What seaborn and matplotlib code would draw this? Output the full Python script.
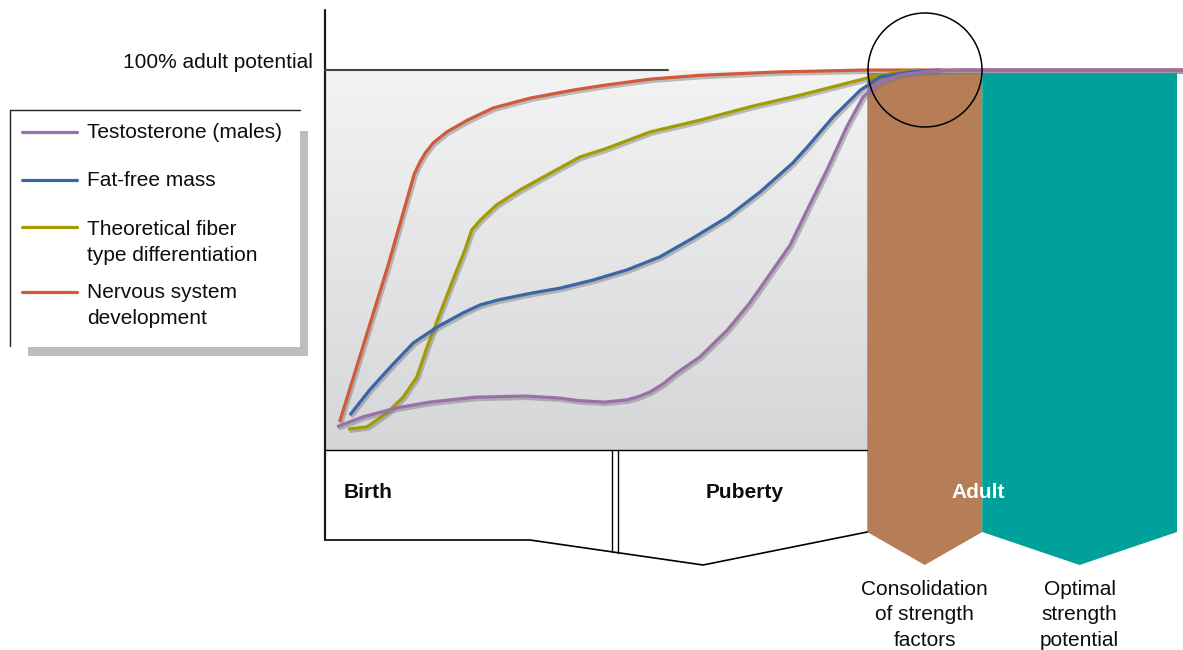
import numpy as np
import pandas as pd
import matplotlib
matplotlib.use("Agg")
import matplotlib.pyplot as plt
import matplotlib.patheffects as pe
from matplotlib.colors import LinearSegmentedColormap
from matplotlib.patches import Polygon, Ellipse, Rectangle
import seaborn as sns

# --- data: development (0-100 arbitrary time) vs % of adult potential ---
nervous_x = [1.7, 7.3, 10.4, 11.0, 11.7, 12.6, 14.2, 16.6, 19.6, 23.9, 28.9, 32.6, 37.9, 43.7, 53.0, 63.2, 70.5, 100]
nervous_y = [7.4, 48.2, 72.6, 75.5, 78.2, 80.8, 83.7, 86.8, 90.0, 92.6, 94.7, 96.0, 97.6, 98.6, 99.5, 100, 100, 100]

fiber_x = [2.7, 4.9, 7.2, 9.1, 10.7, 11.9, 13.1, 14.9, 16.3, 17.1, 18.1, 20.0, 22.7, 25.9, 29.7, 32.6,
           37.9, 43.7, 49.5, 55.4, 63.2, 67.0, 69.3]
fiber_y = [5.5, 6.1, 9.7, 13.9, 19.2, 27.1, 34.2, 44.7, 52.6, 57.9, 60.5, 64.5, 68.4, 72.4, 77.1, 79.2,
           83.7, 86.8, 90.3, 93.4, 97.9, 99.5, 100]

fatfree_x = [2.9, 5.2, 7.6, 10.3, 13.1, 16.1, 18.1, 20.2, 24.1, 27.4, 31.2, 35.2, 39.0, 42.9, 46.9,
             50.7, 54.5, 56.2, 59.2, 62.4, 64.7, 68.2, 71.7]
fatfree_y = [9.2, 15.8, 21.8, 28.2, 32.4, 36.1, 38.2, 39.5, 41.3, 42.6, 44.7, 47.4, 50.8, 55.8, 61.3,
             67.9, 75.5, 79.7, 87.6, 94.7, 98.2, 99.5, 100]

testo_x = [1.4, 4.4, 8.4, 12.2, 17.5, 23.3, 27.2, 29.5, 32.6, 35.2, 36.6, 37.9, 39.4, 41.0, 43.7, 46.9, 49.5,
           52.2, 54.2, 56.2, 58.5, 60.8, 62.7, 64.7, 67.0, 70.5, 74.0, 100]
testo_y = [6.1, 8.7, 11.1, 12.6, 13.9, 14.2, 13.7, 13.0, 12.6, 13.2, 14.1, 15.3, 17.4, 20.3, 24.5, 31.6, 38.7,
           47.4, 53.9, 63.2, 73.7, 85.0, 92.9, 96.8, 98.7, 99.7, 100, 100]

series_names = ["Nervous system\ndevelopment", "Theoretical fiber\ntype differentiation",
                "Fat-free mass", "Testosterone (males)"]
series_colors = ["#d05a3a", "#a39b00", "#3a66a5", "#9b6fa9"]
legend_order = [3, 2, 1, 0]

stage_edges = [0, 33.7, 63.2, 76.6, 99.3]
stage_labels = ["Birth", "Puberty", "Adult"]
phase_labels = ["Consolidation\nof strength\nfactors", "Optimal\nstrength\npotential"]

# --- build long table for seaborn ---
frames = []
for name, xs, ys in zip(series_names,
                        [nervous_x, fiber_x, fatfree_x, testo_x],
                        [nervous_y, fiber_y, fatfree_y, testo_y]):
    frames.append(pd.DataFrame({"time": xs, "potential": ys, "series": name}))
df = pd.concat(frames, ignore_index=True)

sns.set_theme(style="white")
plt.rcParams["font.family"] = ["Liberation Sans", "DejaVu Sans"]
plt.rcParams["text.color"] = "#0d0d0d"

W, H = 1183, 650
fig = plt.figure(figsize=(W / 100, H / 100), dpi=100)
ax = fig.add_axes([0, 0, 1, 1])


# pixel -> data helpers for the schematic layout
def X(px):
    return (px - 325) / 8.58


def Y(py):
    return (450 - py) / 3.8


ax.set_xlim(X(0), X(W))
ax.set_ylim(Y(H), Y(0))
ax.axis("off")

# gradient background of the plot region
grad = np.linspace(0, 1, 256).reshape(-1, 1)
gcmap = LinearSegmentedColormap.from_list("g", ["#f3f3f3", "#d5d6d8"])
ax.imshow(grad, cmap=gcmap, extent=[stage_edges[0], stage_edges[2], 0, 100],
          origin="upper", aspect="auto", zorder=0)

# adult bands with pentagon tips
top, bot, tip = Y(73), Y(532), Y(565)
for (x0, x1), col in zip([(stage_edges[2], stage_edges[3]), (stage_edges[3], stage_edges[4])],
                         ["#b57e56", "#00a19a"]):
    xc = (x0 + x1) / 2
    ax.add_patch(Polygon([(x0, top), (x1, top), (x1, bot), (xc, tip), (x0, bot)],
                         closed=True, facecolor=col, edgecolor="none", zorder=1))

# stage box below the plot
ax.plot([0, stage_edges[2]], [0, 0], color="black", lw=1.0, zorder=2)
box_x = [0, X(530), X(703), stage_edges[2]]
box_y = [Y(540), Y(540), Y(565), Y(532)]
ax.plot(box_x, box_y, color="black", lw=1.2, zorder=2)
for dx in (X(612), X(618)):
    ax.plot([dx, dx], [0, np.interp(dx, box_x, box_y)], color="black", lw=1.0, zorder=2)

# axis line and 100% line
ax.plot([0, 0], [Y(10), Y(540)], color="#1a1a1a", lw=1.6, zorder=2)
ax.plot([0, X(668)], [100, 100], color="#444444", lw=1.5, zorder=2)
ax.text(X(313), Y(63), "100% adult potential", ha="right", va="center", fontsize=15)

# curves
sns.lineplot(data=df, x="time", y="potential", hue="series", hue_order=series_names,
             palette=series_colors, sort=False, estimator=None, legend=False,
             linewidth=2.3, ax=ax, zorder=4)
for line in ax.get_lines()[-4:]:
    line.set_path_effects([pe.SimpleLineShadow(offset=(1.0, -1.3), shadow_color="#777777",
                                               alpha=0.45, linewidth=3.2),
                           pe.Normal()])
    line.set_solid_capstyle("butt")
    line.set_solid_joinstyle("round")
ax.set_xlim(X(0), X(W))
ax.set_ylim(Y(H), Y(0))

# highlight circle
ax.add_patch(Ellipse((X(925), 100), 2 * 57 / 8.58, 2 * 57 / 3.8, fill=False,
                     edgecolor="black", lw=1.1, zorder=5))

# stage labels
ax.text(X(344), Y(493), stage_labels[0], ha="left", va="center", fontsize=15, fontweight="bold")
ax.text(X(745), Y(493), stage_labels[1], ha="center", va="center", fontsize=15, fontweight="bold")
ax.text(X(978), Y(493), stage_labels[2], ha="center", va="center", fontsize=15,
        fontweight="bold", color="white", zorder=3)
for (x0, x1), lab in zip([(stage_edges[2], stage_edges[3]), (stage_edges[3], stage_edges[4])], phase_labels):
    ax.text((x0 + x1) / 2, Y(615), lab, ha="center", va="center", fontsize=15,
            linespacing=1.42)

# legend box (drawn by hand: top/left rule + grey drop shadow)
ax.add_patch(Rectangle((X(300), Y(356)), X(308) - X(300), Y(131) - Y(356),
                       facecolor="#bcbdc0", edgecolor="none", zorder=2))
ax.add_patch(Rectangle((X(28), Y(356)), X(308) - X(28), Y(347) - Y(356),
                       facecolor="#bcbdc0", edgecolor="none", zorder=2))
ax.plot([X(10), X(300)], [Y(110), Y(110)], color="#222222", lw=1.0, zorder=3)
ax.plot([X(10), X(10)], [Y(110), Y(346)], color="#222222", lw=1.0, zorder=3)
leg_line_y = [132, 180, 227, 292]
leg_text_y = [133, 181, 242.5, 305.5]
for i, ly, ty in zip(legend_order, leg_line_y, leg_text_y):
    ax.plot([X(22), X(77)], [Y(ly), Y(ly)], color=series_colors[i], lw=2.3, zorder=3)
    ax.text(X(87), Y(ty), series_names[i], ha="left", va="center", fontsize=15,
            linespacing=1.42)

plt.savefig("out.png", dpi=100, facecolor="white")
plt.close()
